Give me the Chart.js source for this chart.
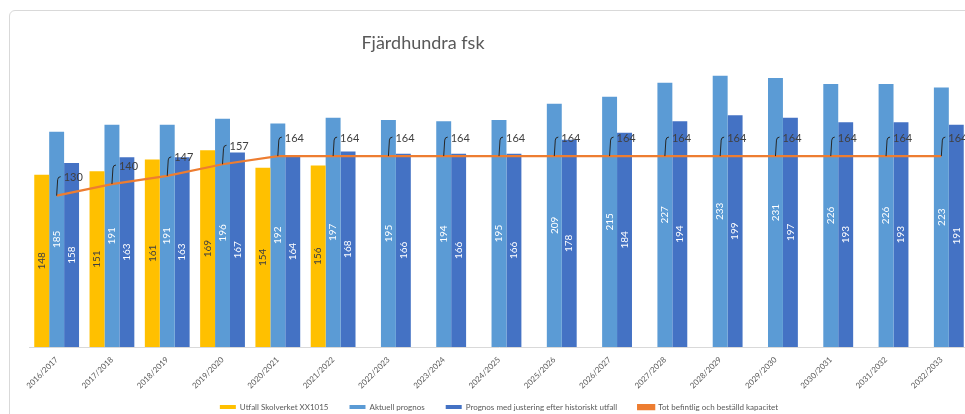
<!DOCTYPE html>
<html>
<head>
<meta charset="utf-8">
<script src="https://cdn.jsdelivr.net/npm/chart.js@4/dist/chart.umd.min.js"></script>
<style>
  html, body { margin: 0; padding: 0; background: #fff; overflow: hidden; }
  #card {
    position: absolute; left: 9px; top: 10px;
    width: 990px; height: 440px;
    border: 1px solid #d9d9d9; border-radius: 6px;
  }
  #myChart { display: block; }
</style>
</head>
<body>
<div id="card"><canvas id="myChart" width="970" height="430"></canvas></div>
<script>
const labels = ["2016/2017", "2017/2018", "2018/2019", "2019/2020", "2020/2021", "2021/2022",
  "2022/2023", "2023/2024", "2024/2025", "2025/2026", "2026/2027", "2027/2028",
  "2028/2029", "2029/2030", "2030/2031", "2031/2032", "2032/2033"];
const utfall = [148, 151, 161, 169, 154, 156, null, null, null, null, null, null, null, null, null, null, null];
const aktuell = [185, 191, 191, 196, 192, 197, 195, 194, 195, 209, 215, 227, 233, 231, 226, 226, 223];
const justerad = [158, 163, 163, 167, 164, 168, 166, 166, 166, 178, 184, 194, 199, 197, 193, 193, 191];
const kapacitet = [130, 140, 147, 157, 164, 164, 164, 164, 164, 164, 164, 164, 164, 164, 164, 164, 164];

const FONT = "Lato, 'Open Sans', sans-serif";

// pull the legend up under the rotated tick labels, like Excel does
const legendShift = {
  id: "legendShift",
  afterLayout(chart) {
    chart.legend.top -= 20;
    chart.legend.bottom -= 20;
  }
};

// title, bar values and line callouts
const labelPlugin = {
  id: "labelPlugin",
  afterDatasetsDraw(chart) {
    const ctx = chart.ctx;
    ctx.save();
    ctx.fillStyle = "#595959";
    ctx.font = "18px " + FONT;
    ctx.textAlign = "center";
    ctx.textBaseline = "middle";
    ctx.fillText("Fjärdhundra fsk", 413, 32);

    chart.data.datasets.forEach((ds, i) => {
      const meta = chart.getDatasetMeta(i);
      if (ds.type === "line") {
        meta.data.forEach((pt, j) => {
          const x = pt.x, y = pt.y;
          ctx.strokeStyle = "#262626";
          ctx.lineWidth = 1;
          ctx.beginPath();
          ctx.moveTo(x, y);
          ctx.lineTo(x + 1, y - 16);
          ctx.quadraticCurveTo(x + 1.3, y - 19, x + 4, y - 19);
          ctx.stroke();
          ctx.fillStyle = "#404040";
          ctx.font = "11px " + FONT;
          ctx.textAlign = "left";
          ctx.fillText(ds.data[j], x + 7, y - 18);
        });
        return;
      }
      meta.data.forEach((bar, j) => {
        const v = ds.data[j];
        if (v == null) return;
        ctx.save();
        ctx.translate(bar.x, (bar.y + bar.base) / 2);
        ctx.rotate(-Math.PI / 2);
        ctx.font = "10px " + FONT;
        ctx.textAlign = "center";
        ctx.fillStyle = ds.labelColor;
        ctx.fillText(v, 0, 0);
        ctx.restore();
      });
    });
    ctx.restore();
  }
};

new Chart(document.getElementById("myChart"), {
  type: "bar",
  data: {
    labels: labels,
    datasets: [
      {
        label: "Utfall Skolverket XX1015",
        data: utfall,
        backgroundColor: "#FFC000",
        labelColor: "#404040"
      },
      {
        label: "Aktuell prognos",
        data: aktuell,
        backgroundColor: "#5B9BD5",
        labelColor: "#ffffff"
      },
      {
        label: "Prognos med justering efter historiskt utfall",
        data: justerad,
        backgroundColor: "#4472C4",
        labelColor: "#ffffff"
      },
      {
        type: "line",
        label: "Tot befintlig och beställd kapacitet",
        data: kapacitet,
        borderColor: "#ED7D31",
        backgroundColor: "#ED7D31",
        borderWidth: 2.25,
        pointRadius: 0,
        tension: 0,
        order: -1
      }
    ]
  },
  options: {
    responsive: false,
    animation: false,
    events: [],
    datasets: {
      bar: { categoryPercentage: 0.81, barPercentage: 1 }
    },
    layout: { padding: { top: 45, left: 19, right: 11, bottom: 0 } },
    plugins: {
      tooltip: { enabled: false },
      legend: {
        position: "bottom",
        labels: {
          boxWidth: 16,
          boxHeight: 4,
          padding: 21,
          color: "#595959",
          font: { family: FONT, size: 8 },
          sort: (a, b) => a.datasetIndex - b.datasetIndex
        }
      }
    },
    scales: {
      x: {
        grid: { display: false, drawTicks: false },
        border: { color: "#d9d9d9" },
        ticks: {
          color: "#595959",
          font: { family: FONT, size: 8 },
          padding: 8,
          minRotation: 45,
          maxRotation: 45,
          autoSkip: false
        },
        afterFit: s => { s.height = 55; s.paddingLeft = 0; s.paddingRight = 0; }
      },
      y: {
        display: false,
        min: 0,
        max: 250
      }
    }
  },
  plugins: [labelPlugin, legendShift]
});
</script>
</body>
</html>
